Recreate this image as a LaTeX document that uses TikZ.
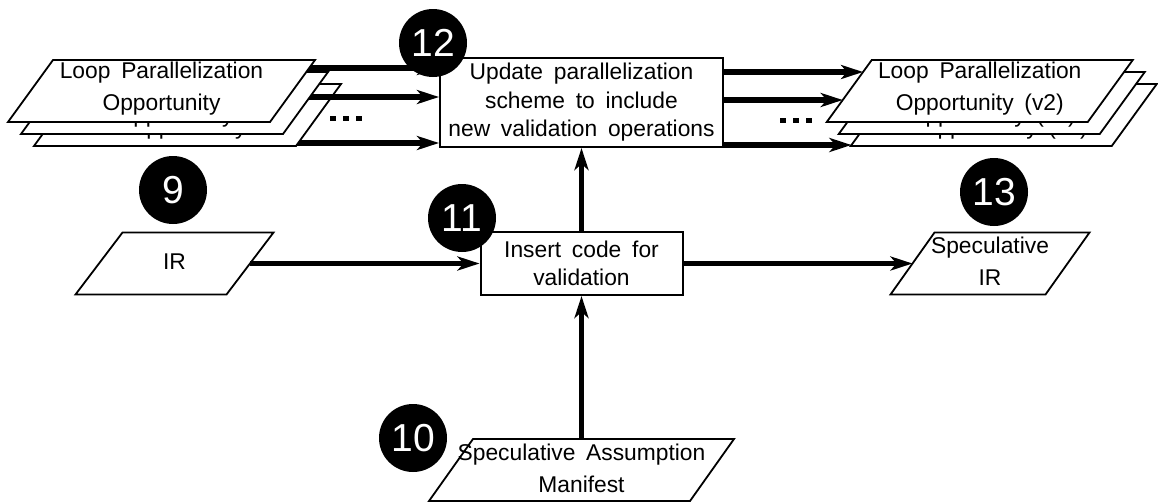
\documentclass[tikz,border=0pt]{standalone}
\usepackage{fontspec}
\setmainfont{Liberation Sans}[WordSpace=1.7]
\usetikzlibrary{arrows.meta,calc}

\tikzset{
  txt/.style={align=center, inner sep=0pt, font=\fontsize{22.8}{32}\selectfont},
  shapeline/.style={draw=black, line width=1.8pt, fill=white, line join=miter},
  procbox/.style={draw=black, line width=2pt, fill=white, inner sep=0pt, align=center,
                  font=\fontsize{22.8}{28.5}\selectfont},
  flow/.style={line width=5.5pt, -{Stealth[length=22pt,width=14pt,inset=6pt]}},
  badge/.style={circle, fill=black, text=white, minimum size=68pt, inner sep=0pt,
                font=\fontsize{39}{39}\selectfont},
  frame/.style={minimum height=62pt, inner sep=0pt, outer sep=0pt},
  dotrow/.style={inner sep=0pt},
}

% #1 name, #2 centre, #3 width at mid-height: reserves the anchors of a slanted box
\newcommand\slantframe[3]{%
  \path (#2) node[frame, minimum width=#3] (#1) {};}
% #1 name, #2 horizontal slant, #3 text: draws the slanted box and its label
\newcommand\slantdraw[3]{%
  \filldraw[shapeline] ($(#1.south west)+(-#2/2,0)$) -- ($(#1.south east)+(-#2/2,0)$)
     -- ($(#1.north east)+(#2/2,0)$) -- ($(#1.north west)+(#2/2,0)$) -- cycle;
  \node[txt] (#1-text) at ($(#1)+(0,-2)$) {#3};}

\begin{document}
\begin{tikzpicture}[x=1pt,y=-1pt]
\useasboundingbox (0,0) rectangle (1158,501);

% anchors of all slanted data boxes
\slantframe{L1}{161.5,91}{262pt}
\slantframe{L2}{174.5,103}{262pt}
\slantframe{L3}{187.5,115}{262pt}
\slantframe{R1}{979.75,91}{261pt}
\slantframe{R2}{991.75,103}{261pt}
\slantframe{R3}{1003.75,115}{261pt}
\slantframe{ir}{174.5,263.5}{151pt}
\slantframe{sir}{990,263.5}{155pt}
\slantframe{man}{581.5,470}{261pt}

% process boxes
\node[procbox, minimum width=283pt, minimum height=89pt] (upd) at (581.5,102.5)
  {Update parallelization\\scheme to include\\new validation operations};
\node[procbox, minimum width=202pt, minimum height=63pt] (ins) at (581.5,263.5)
  {Insert code for\\validation};

% left stack, each copy feeding the update step
\coordinate (a3) at ($(L3.center)+(0,28)$);
\draw[flow] (a3) -- (a3 -| upd.west);
\slantdraw{L3}{45}{Loop Parallelization\\Opportunity}
\coordinate (a2) at ($(L2.center)+(0,-6)$);
\draw[flow] (a2) -- (a2 -| upd.west);
\slantdraw{L2}{45}{Loop Parallelization\\Opportunity}
\coordinate (a1) at ($(L1.center)+(0,-23)$);
\draw[flow] (a1) -- (a1 -| upd.west);
\slantdraw{L1}{45}{Loop Parallelization\\Opportunity}

% right stack of updated opportunities
\slantdraw{R3}{45}{Loop Parallelization\\Opportunity (v2)}
\slantdraw{R2}{45}{Loop Parallelization\\Opportunity (v2)}
\slantdraw{R1}{45}{Loop Parallelization\\Opportunity (v2)}
\draw[flow] ($(upd.east)+(0,-30.5)$) -- ($(R1.west)+(13.8,-19)$);
\draw[flow] ($(upd.east)+(0,-2.5)$) -- ($(R1.west)+(-6.5,9)$);
\draw[flow] ($(upd.east)+(0,42.5)$) -- ($(R3.west)+(-21.8,30)$);

% ellipses between the stacks
\node[dotrow] (dl) at (346,118) {\rule{6pt}{5pt}\hspace{7pt}\rule{6pt}{5pt}\hspace{7pt}\rule{6pt}{5pt}};
\node[dotrow] (dr) at (796,120) {\rule{6pt}{5pt}\hspace{7pt}\rule{6pt}{5pt}\hspace{7pt}\rule{6pt}{5pt}};

% inputs and output of the validation step
\slantdraw{ir}{47}{IR}
\slantdraw{sir}{44}{Speculative\\IR}
\slantdraw{man}{44}{Speculative Assumption\\Manifest}

\draw[flow] (ir.east) -- (ins.west);
\draw[flow] (ins.east) -- (sir.west);
\draw[flow] (ins.north) -- (upd.south);
\draw[flow] (man.north) -- (ins.south);

% step numbers
\node[badge] (n12) at (433,43) {12};
\node[badge] (n9) at (173,190) {9};
\node[badge] (n11) at (462,218) {11};
\node[badge] (n13) at (994,192) {13};
\node[badge] (n10) at (413,438) {10};
\end{tikzpicture}
\end{document}
